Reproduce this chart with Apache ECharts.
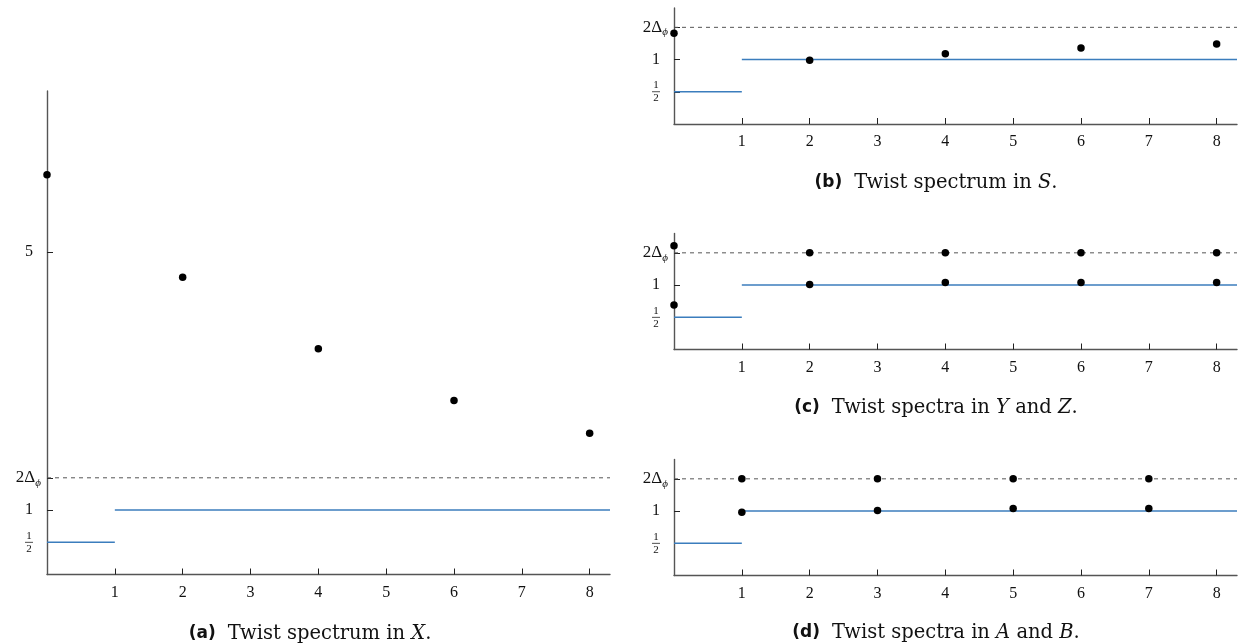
<!DOCTYPE html>
<html><head><meta charset="utf-8">
<script src="https://cdn.jsdelivr.net/npm/echarts@6/dist/echarts.min.js"></script>
<style>html,body{margin:0;padding:0;background:#fff}#c{width:1238px;height:644px}</style>
</head><body><div id="c"></div>
<script>
// ---- data ----
const twoDeltaPhi = 1.5;
const stepLowX = [0, 1];      const stepLowY = [0.5, 0.5];
const stepHighX = [1, 8.3];   const stepHighY = [1, 1];
const xTicks = [1, 2, 3, 4, 5, 6, 7, 8];
const yTicksA = [0.5, 1, 1.5, 5];
const yTicksSmall = [0.5, 1, 1.5];

const aX = [0, 2, 4, 6, 8];
const aY = [6.2, 4.61, 3.5, 2.7, 2.19];

const bX = [0, 2, 4, 6, 8];
const bY = [1.41, 0.99, 1.09, 1.18, 1.24];

const cX1 = [0, 2, 4, 6, 8];
const cY1 = [1.61, 1.5, 1.5, 1.5, 1.5];
const cX2 = [0, 2, 4, 6, 8];
const cY2 = [0.69, 1.01, 1.04, 1.04, 1.04];

const dX1 = [1, 3, 5, 7];
const dY1 = [1.5, 1.5, 1.5, 1.5];
const dX2 = [1, 3, 5, 7];
const dY2 = [0.98, 1.01, 1.04, 1.04];

const captions = [
  {tag: '(a)', text: 'Twist spectrum in ', math: 'X', tail: '.'},
  {tag: '(b)', text: 'Twist spectrum in ', math: 'S', tail: '.'},
  {tag: '(c)', text: 'Twist spectra in ', math: 'Y', mid: ' and ', math2: 'Z', tail: '.'},
  {tag: '(d)', text: 'Twist spectra in ', math: 'A', mid: ' and ', math2: 'B', tail: '.'}
];

// ---- layout ----
const grids = [
  {left: 47, top: 91, width: 563, height: 483.5},
  {left: 674, top: 8, width: 563, height: 116},
  {left: 674, top: 233.5, width: 563, height: 116},
  {left: 674, top: 459.5, width: 563, height: 116}
];
const yMax = [7.5, 1.8, 1.8, 1.8];
const capPos = [{x: 310, y: 634}, {x: 936, y: 182.5}, {x: 936, y: 407.5}, {x: 936, y: 633}];

const serif = 'Liberation Serif';
const capSerif = 'DejaVu Serif';
const blue = '#3b7dbd';

function yLabel(v) {
  if (Math.abs(v - 0.5) < 1e-9) return '{f|1}{fs|}\n{bar|}{fs|}\n{f|2}{fs|}';
  if (Math.abs(v - twoDeltaPhi) < 1e-9) return '{n2|2Δ}{sub|ϕ}';
  return '{n|' + v + '}';
}
const yRich = {
  n: {fontFamily: serif, fontSize: 16, color: '#111', padding: [0, 8, 0, 0]},
  n2: {fontFamily: serif, fontSize: 17, color: '#111'},
  f: {fontFamily: serif, fontSize: 11, color: '#111', lineHeight: 10, align: 'center', width: 8},
  fs: {width: 8, lineHeight: 3},
  bar: {width: 8, height: 0.8, lineHeight: 3, backgroundColor: '#222'},
  sub: {fontFamily: serif, fontSize: 11, fontStyle: 'italic', color: '#111', padding: [10, 0, 0, 0]}
};

const xAxes = [], yAxes = [], series = [], titles = [];
grids.forEach((g, i) => {
  xAxes.push({
    gridIndex: i, type: 'value', min: 0, max: 8.3,
    axisLine: {show: true, lineStyle: {color: '#555', width: 1.4}},
    axisTick: {show: true, inside: true, length: 6, customValues: xTicks, lineStyle: {color: '#222'}},
    axisLabel: {customValues: xTicks, fontFamily: serif, fontSize: 16, color: '#111', margin: 10},
    splitLine: {show: false}
  });
  const yt = i === 0 ? yTicksA : yTicksSmall;
  yAxes.push({
    gridIndex: i, type: 'value', min: 0, max: yMax[i],
    axisLine: {show: true, onZero: false, lineStyle: {color: '#555', width: 1.4}},
    axisTick: {show: true, inside: true, length: 6, customValues: yt, lineStyle: {color: '#222'}},
    axisLabel: {customValues: yt, formatter: yLabel, rich: yRich, margin: 6},
    splitLine: {show: false}
  });
  // dashed 2Δφ line
  series.push({type: 'line', xAxisIndex: i, yAxisIndex: i, data: [[0, twoDeltaPhi], [8.3, twoDeltaPhi]],
    symbol: 'none', lineStyle: {color: '#555', width: 1, type: [4, 4]}, silent: true, z: 1});
  // step lines
  series.push({type: 'line', xAxisIndex: i, yAxisIndex: i,
    data: stepLowX.map((x, k) => [x, stepLowY[k]]), symbol: 'none',
    lineStyle: {color: blue, width: 1.6}, silent: true, z: 2});
  series.push({type: 'line', xAxisIndex: i, yAxisIndex: i,
    data: stepHighX.map((x, k) => [x, stepHighY[k]]), symbol: 'none',
    lineStyle: {color: blue, width: 1.6}, silent: true, z: 2});
  const c = captions[i];
  let txt = '{b|' + c.tag + '}{sp|}{t|' + c.text + '}{m|' + c.math + '}';
  if (c.mid) txt += '{t|' + c.mid + '}{m|' + c.math2 + '}';
  txt += '{t|' + c.tail + '}';
  titles.push({
    text: txt, left: capPos[i].x, top: capPos[i].y - 12, textAlign: 'center',
    padding: 0,
    textStyle: {
      fontWeight: 'normal',
      rich: {
        b: {fontFamily: 'DejaVu Sans', fontWeight: 'bold', fontSize: 17, color: '#111', lineHeight: 24},
        sp: {width: 12},
        t: {fontFamily: capSerif, fontWeight: 'normal', fontSize: 19.5, color: '#111', lineHeight: 24},
        m: {fontFamily: capSerif, fontWeight: 'normal', fontStyle: 'italic', fontSize: 19.5, color: '#111', lineHeight: 24}
      }
    }
  });
});

function dots(i, xs, ys) {
  series.push({type: 'scatter', xAxisIndex: i, yAxisIndex: i, clip: false,
    data: xs.map((x, k) => [x, ys[k]]), symbolSize: 7.5,
    itemStyle: {color: '#000', opacity: 1}, z: 5});
}
dots(0, aX, aY);
dots(1, bX, bY);
dots(2, cX1, cY1); dots(2, cX2, cY2);
dots(3, dX1, dY1); dots(3, dX2, dY2);

const chart = echarts.init(document.getElementById('c'));
chart.setOption({
  animation: false,
  title: titles,
  grid: grids,
  xAxis: xAxes,
  yAxis: yAxes,
  series: series
});
</script>
</body></html>
